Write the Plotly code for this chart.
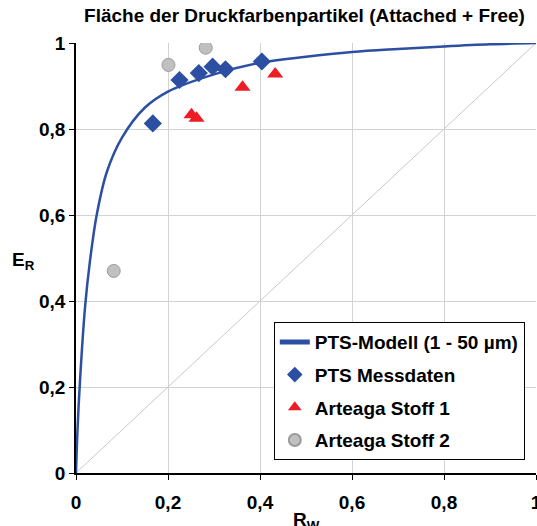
import plotly.graph_objects as go

# Model curve points
model_x = [0, 0.003, 0.009, 0.02, 0.03, 0.045, 0.067, 0.1, 0.15, 0.2, 0.3, 0.4, 0.5, 0.6, 0.7, 0.8, 0.9, 1.0]
model_y = [0, 0.093, 0.22, 0.39, 0.49, 0.60, 0.70, 0.78, 0.85, 0.887, 0.927, 0.954, 0.968, 0.979, 0.986, 0.992, 0.997, 1.0]

pts_x = [0.167, 0.225, 0.267, 0.297, 0.325, 0.404]
pts_y = [0.813, 0.914, 0.930, 0.945, 0.939, 0.957]

art1_x = [0.251, 0.262, 0.362, 0.433]
art1_y = [0.833, 0.825, 0.897, 0.928]

art2_x = [0.082, 0.201, 0.282]
art2_y = [0.470, 0.949, 0.989]

diag_x = [0, 1]
diag_y = [0, 1]

tick_vals = [0, 0.2, 0.4, 0.6, 0.8, 1]
tick_text = ["<b>0</b>", "<b>0,2</b>", "<b>0,4</b>", "<b>0,6</b>", "<b>0,8</b>", "<b>1</b>"]

FONT = "Arial, Liberation Sans, sans-serif"

fig = go.Figure()
fig.add_trace(go.Scatter(x=diag_x, y=diag_y, mode="lines", line=dict(color="#c8c8c8", width=1),
                         showlegend=False, hoverinfo="skip"))
fig.add_trace(go.Scatter(x=model_x, y=model_y, mode="lines", line=dict(color="#2D4FA3", width=2.5, shape="spline"),
                         name="<b>PTS-Modell (1 - 50 µm)</b>", legendgroup="a"))
fig.add_trace(go.Scatter(x=pts_x, y=pts_y, mode="markers",
                         marker=dict(symbol="diamond", size=14, color="#2D4FA3"),
                         name="<b>PTS Messdaten</b>", legendgroup="b"))
fig.add_trace(go.Scatter(x=art1_x, y=art1_y, mode="markers",
                         marker=dict(symbol="triangle-up", size=14, color="#EE1C25"),
                         name="<b>Arteaga Stoff 1</b>", legendgroup="c"))
fig.add_trace(go.Scatter(x=art2_x, y=art2_y, mode="markers",
                         marker=dict(symbol="circle", size=13, color="#C0C0C0", line=dict(color="#9a9a9a", width=1)),
                         name="<b>Arteaga Stoff 2</b>", legendgroup="d"))

axis_common = dict(range=[0, 1], tickvals=tick_vals, ticktext=tick_text,
                   showgrid=True, gridcolor="#d3d3d3", gridwidth=1,
                   ticks="outside", ticklen=5, tickcolor="#000",
                   tickfont=dict(family=FONT, size=19, color="#000"),
                   ticklabeloverflow="allow", automargin=False,
                   zeroline=False, showline=True, linecolor="#000", linewidth=1.5)

fig.update_layout(
    width=537, height=526,
    margin=dict(l=76, r=1, t=43, b=53, autoexpand=False),
    paper_bgcolor="white", plot_bgcolor="white",
    font=dict(family=FONT, color="#000"),
    title=dict(text="<b>Fläche der Druckfarbenpartikel (Attached + Free)</b>",
               x=0.567, xanchor="center", y=0.97, yanchor="middle",
               font=dict(family=FONT, size=19, color="#000")),
    xaxis=dict(**axis_common, ticklabelstandoff=6),
    yaxis=dict(**axis_common),
    legend=dict(x=0.430, y=0.351, xanchor="left", yanchor="top",
                bgcolor="white", bordercolor="#000", borderwidth=1,
                font=dict(family=FONT, size=19, color="#000"),
                tracegroupgap=5, itemsizing="constant", itemwidth=30),
    showlegend=True,
)

fig.add_annotation(text="<b>E<sub>R</sub></b>", xref="paper", yref="paper", x=-0.115, y=0.492,
                   showarrow=False, xanchor="center", yanchor="middle",
                   font=dict(family=FONT, size=19, color="#000"))
fig.add_annotation(text="<b>R<sub>W</sub></b>", xref="paper", yref="paper", x=0.5, y=-0.08,
                   showarrow=False, xanchor="center", yanchor="top",
                   font=dict(family=FONT, size=19, color="#000"))

fig.write_html("out.html")
